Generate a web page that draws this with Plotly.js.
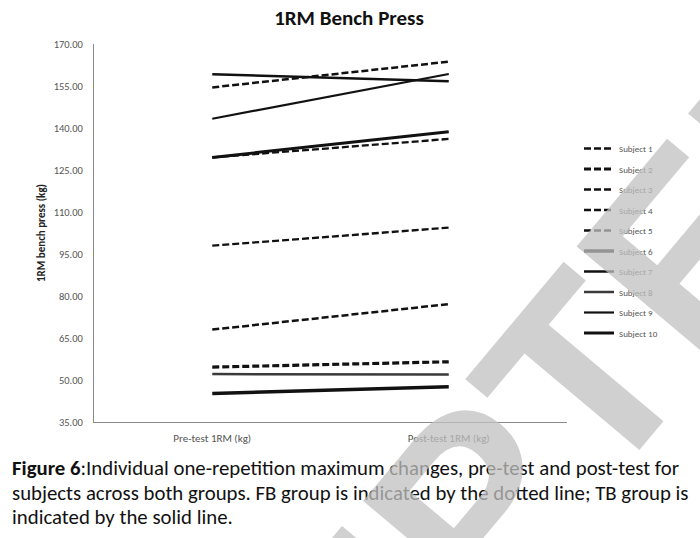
<!DOCTYPE html>
<html>
<head>
<meta charset="utf-8">
<script src="https://cdn.plot.ly/plotly-3.0.1.min.js"></script>
<style>html,body{margin:0;padding:0;background:#fff;}#chart{width:700px;height:538px;}</style>
</head>
<body>
<div id="chart"></div>
<script>
// ---- data ----
const categories = ["Pre-test 1RM (kg)", "Post-test 1RM (kg)"];
const subjects = ["Subject 1","Subject 2","Subject 3","Subject 4","Subject 5","Subject 6","Subject 7","Subject 8","Subject 9","Subject 10"];
const preTest  = [154.5, 54.6, 98.0, 129.5, 68.0, 45.2, 159.2, 52.1, 143.3, 129.5];
const postTest = [163.7, 56.5, 104.4, 136.1, 77.1, 47.6, 156.7, 52.0, 159.3, 138.7];
const yTicks = [35, 50, 65, 80, 95, 110, 125, 140, 155, 170];

// ---- styles ----
const lineStyles = [
  {dash:"7px,3px", width:2.5, color:"#111"},
  {dash:"7px,3px", width:3.2, color:"#111"},
  {dash:"7px,3px", width:2.3, color:"#111"},
  {dash:"7px,3px", width:2.3, color:"#111"},
  {dash:"7px,3px", width:2.5, color:"#111"},
  {dash:"solid", width:3.5, color:"#111"},
  {dash:"solid", width:2.5, color:"#111"},
  {dash:"solid", width:2.5, color:"#3a3a3a"},
  {dash:"solid", width:2.2, color:"#111"},
  {dash:"solid", width:3.0, color:"#111"}
];

const traces = subjects.map((name, i) => ({
  type: "scatter",
  mode: "lines",
  name: name,
  legendgroup: "g" + i,
  x: categories,
  y: [preTest[i], postTest[i]],
  line: {dash: lineStyles[i].dash, width: lineStyles[i].width, color: lineStyles[i].color},
  hoverinfo: "skip"
}));

const FONT = "Carlito, Lato, 'Liberation Sans', sans-serif";
const px2py = p => (422 - p) / 378;
const px2px = p => (p - 94) / 473;

const captionLines = [
  "<b>Figure 6</b>:Individual one-repetition maximum changes, pre-test and post-test for",
  "subjects across both groups. FB group is indicated by the dotted line; TB group is",
  "indicated by the solid line."
];
const captionY = [468, 493, 517];

const annotations = captionLines.map((t, i) => ({
  text: t, xref: "paper", yref: "paper",
  x: px2px(10), y: px2py(captionY[i]),
  xanchor: "left", yanchor: "middle", showarrow: false,
  font: {family: FONT, size: 20.8, color: "#111"}
}));

annotations.push({
  text: "<b>ACCEPTED</b>", xref: "paper", yref: "paper",
  x: px2px(406), y: px2py(588), xanchor: "center", yanchor: "middle",
  showarrow: false, textangle: -50,
  font: {family: "'Liberation Sans', Arial, sans-serif", size: 260, color: "rgba(192,192,192,0.75)"}
});

const layout = {
  width: 700, height: 538,
  paper_bgcolor: "#fff", plot_bgcolor: "#fff",
  margin: {l: 94, r: 133, t: 44, b: 116, pad: 0},
  title: {
    text: "<b>1RM Bench Press</b>",
    x: 349/700, xref: "container", xanchor: "center",
    y: 1 - 18/538, yref: "container", yanchor: "middle",
    font: {family: FONT, size: 21, color: "#111"}
  },
  showlegend: true,
  legend: {
    x: px2px(579), xanchor: "left", y: px2py(134), yanchor: "top",
    font: {family: FONT, size: 9, color: "#555"},
    itemwidth: 30, tracegroupgap: 1.5, bgcolor: "rgba(0,0,0,0)"
  },
  xaxis: {
    type: "category", range: [-0.5, 1.5],
    showline: true, linecolor: "#8a8a8a", linewidth: 1,
    showgrid: false, zeroline: false, ticks: "",
    tickfont: {family: FONT, size: 11, color: "#555"},
    ticklabelstandoff: 6,
    fixedrange: true
  },
  yaxis: {
    range: [35, 170], tickvals: yTicks, tickformat: ".2f",
    showline: true, linecolor: "#8a8a8a", linewidth: 1,
    showgrid: false, zeroline: false, ticks: "",
    tickfont: {family: FONT, size: 10.5, color: "#555"},
    ticklabelstandoff: 8,
    title: {text: "<b>1RM bench press (kg)</b>", font: {family: FONT, size: 11, color: "#222"}, standoff: 5},
    fixedrange: true
  },
  annotations: annotations
};

Plotly.newPlot("chart", traces, layout, {displayModeBar: false, staticPlot: true});
</script>
</body>
</html>
